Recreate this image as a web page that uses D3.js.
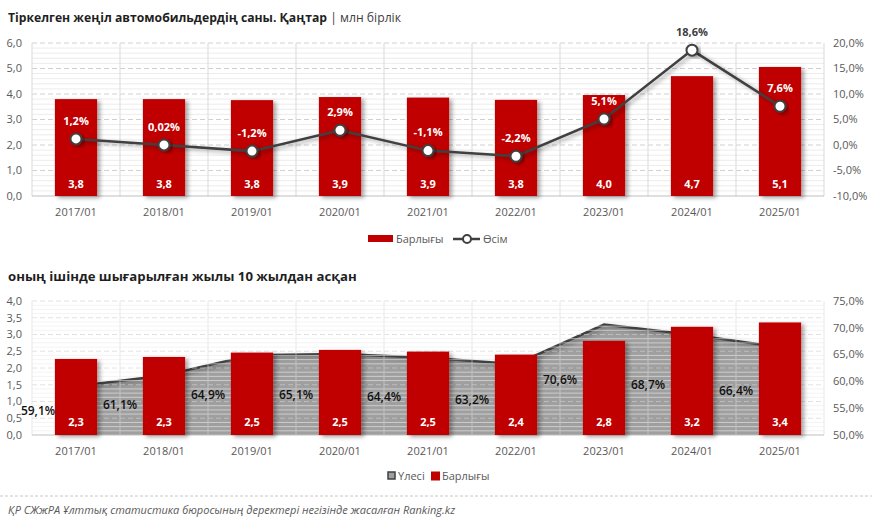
<!DOCTYPE html>
<html>
<head>
<meta charset="utf-8">
<script src="https://cdn.jsdelivr.net/npm/d3@7"></script>
<style>
  body { margin: 0; background: #fff; }
  text { font-family: "Open Sans", sans-serif; }
</style>
</head>
<body>
<svg id="chart" width="872" height="521"></svg>
<script>
// data
const years = ['2017/01', '2018/01', '2019/01', '2020/01', '2021/01', '2022/01', '2023/01', '2024/01', '2025/01'];
const total = [3.80, 3.80, 3.76, 3.88, 3.86, 3.77, 3.96, 4.70, 5.06];      // млн бірлік
const growth = [1.2, 0.02, -1.2, 2.9, -1.1, -2.2, 5.1, 18.6, 7.6];         // %
const older = [2.27, 2.33, 2.46, 2.54, 2.49, 2.40, 2.81, 3.23, 3.36];      // млн бірлік, 10+ years
const share = [59.1, 61.1, 64.9, 65.1, 64.4, 63.2, 70.6, 68.7, 66.4];      // %

const leftTicksTop = [0, 1, 2, 3, 4, 5, 6];
const rightTicksTop = [-10, -5, 0, 5, 10, 15, 20];
const leftTicksBot = [0, 0.5, 1, 1.5, 2, 2.5, 3, 3.5, 4];
const rightTicksBot = [50, 55, 60, 65, 70, 75];

const RED = '#c00000';
const DARK = '#404040';
const AXIS_TXT = '#595959';

const fmt1 = d => d.toFixed(1).replace('.', ',');
const fmtPct = d => (Math.abs(d) < 0.1 && d !== 0 ? d.toFixed(2) : d.toFixed(1)).replace('.', ',') + '%';

const svg = d3.select('#chart');

const defs = svg.append('defs');
const shadow = defs.append('filter').attr('id', 'shadow')
    .attr('x', '-20%').attr('y', '-20%').attr('width', '150%').attr('height', '150%');
shadow.append('feDropShadow')
    .attr('dx', 3).attr('dy', 2).attr('stdDeviation', 2)
    .attr('flood-color', '#000').attr('flood-opacity', 0.35);

const plotLeft = 32, plotRight = 824;

const x = d3.scaleBand().domain(years).range([plotLeft, plotRight]).paddingInner(0).paddingOuter(0);
const barW = x.bandwidth() * 0.48;
const cx = d => x(d) + x.bandwidth() / 2;

function grid(g, y, ticks, minorSteps) {
    // fine minor lines
    const [y0, y1] = y.domain();
    const major = ticks[1] - ticks[0];
    const minor = [];
    for (let i = 0; i < ticks.length - 1; i++) {
        for (let k = 1; k < minorSteps; k++) minor.push(ticks[i] + major * k / minorSteps);
    }
    g.append('g').selectAll('line').data(minor).join('line')
        .attr('x1', plotLeft).attr('x2', plotRight)
        .attr('y1', d => y(d)).attr('y2', d => y(d))
        .attr('stroke', '#ececec').attr('stroke-width', 1);
    g.append('g').selectAll('line').data(ticks.slice(1)).join('line')
        .attr('x1', plotLeft).attr('x2', plotRight)
        .attr('y1', d => y(d)).attr('y2', d => y(d))
        .attr('stroke', '#d0d0d0').attr('stroke-dasharray', '5,3');
    const bounds = years.map(d => x(d)).concat([plotRight]);
    g.append('g').selectAll('line').data(bounds).join('line')
        .attr('x1', d => d).attr('x2', d => d)
        .attr('y1', y(y1)).attr('y2', y(y0))
        .attr('stroke', '#d9d9d9');
}

function axes(g, y, yR, ticksL, ticksR, fmtL, fmtR) {
    g.append('g').selectAll('text').data(ticksL).join('text')
        .attr('x', 22).attr('y', d => y(d)).attr('dy', '0.35em')
        .attr('text-anchor', 'end').attr('font-size', 11).attr('fill', AXIS_TXT)
        .text(fmtL);
    g.append('g').selectAll('text').data(ticksR).join('text')
        .attr('x', 833).attr('y', d => yR(d)).attr('dy', '0.35em')
        .attr('text-anchor', 'start').attr('font-size', 11).attr('fill', AXIS_TXT)
        .text(fmtR);
    const base = y.range()[0];
    g.append('line').attr('x1', plotLeft).attr('x2', plotRight).attr('y1', base).attr('y2', base)
        .attr('stroke', '#bfbfbf');
    g.append('g').selectAll('text').data(years).join('text')
        .attr('x', d => cx(d)).attr('y', base + 16).attr('dy', '0.35em')
        .attr('text-anchor', 'middle').attr('font-size', 11).attr('fill', AXIS_TXT)
        .text(d => d);
}

// ---------- titles ----------
const t1 = svg.append('text').attr('x', 8).attr('y', 22).attr('font-size', 12.2).attr('fill', '#1f1f1f');
t1.append('tspan').attr('font-weight', 'bold').text('Тіркелген жеңіл автомобильдердің саны. Қаңтар');
t1.append('tspan').attr('fill', '#404040').text(' | млн бірлік');

svg.append('text').attr('x', 8).attr('y', 281).attr('font-size', 13.2).attr('fill', '#1f1f1f')
    .attr('font-weight', 'bold').text('оның ішінде шығарылған жылы 10 жылдан асқан');

// ---------- top chart ----------
const yT = d3.scaleLinear().domain([0, 6]).range([196, 43]);
const yTR = d3.scaleLinear().domain([-10, 20]).range([196, 43]);

const topG = svg.append('g');
grid(topG.append('g'), yT, leftTicksTop, 5);
axes(topG, yT, yTR, leftTicksTop, rightTicksTop, fmt1, d => fmt1(d) + '%');

topG.append('g').selectAll('rect').data(total).join('rect')
    .attr('x', (d, i) => cx(years[i]) - barW / 2)
    .attr('width', barW)
    .attr('y', d => yT(d))
    .attr('height', d => yT(0) - yT(d))
    .attr('fill', RED)
    .attr('filter', 'url(#shadow)');

topG.append('g').selectAll('text').data(total).join('text')
    .attr('x', (d, i) => cx(years[i])).attr('y', 184).attr('dy', '0.35em')
    .attr('text-anchor', 'middle').attr('font-size', 11).attr('font-weight', 'bold')
    .attr('fill', '#fff').text(fmt1);

const line = d3.line().x((d, i) => cx(years[i])).y(d => yTR(d));
topG.append('path').datum(growth)
    .attr('d', line).attr('fill', 'none')
    .attr('stroke', DARK).attr('stroke-width', 2.5)
    .attr('filter', 'url(#shadow)');

topG.append('g').selectAll('circle').data(growth).join('circle')
    .attr('cx', (d, i) => cx(years[i])).attr('cy', d => yTR(d)).attr('r', 5.5)
    .attr('fill', '#fff').attr('stroke', DARK).attr('stroke-width', 2)
    .attr('filter', 'url(#shadow)');

// labels sit above markers; white when inside the bar
topG.append('g').selectAll('text').data(growth).join('text')
    .attr('x', (d, i) => cx(years[i])).attr('y', d => yTR(d) - 18).attr('dy', '0.35em')
    .attr('text-anchor', 'middle').attr('font-size', 11).attr('font-weight', 'bold')
    .attr('fill', (d, i) => (yTR(d) - 18 < yT(total[i]) ? DARK : '#fff'))
    .text(fmtPct);

// top legend
const lg1 = svg.append('g');
lg1.append('rect').attr('x', 368).attr('y', 235).attr('width', 25).attr('height', 7).attr('fill', RED);
lg1.append('text').attr('x', 396).attr('y', 239).attr('dy', '0.35em')
    .attr('font-size', 11).attr('fill', AXIS_TXT).text('Барлығы');
lg1.append('line').attr('x1', 453).attr('x2', 480).attr('y1', 239).attr('y2', 239)
    .attr('stroke', DARK).attr('stroke-width', 2.5);
lg1.append('circle').attr('cx', 467).attr('cy', 239).attr('r', 4)
    .attr('fill', '#fff').attr('stroke', DARK).attr('stroke-width', 2);
lg1.append('text').attr('x', 483).attr('y', 239).attr('dy', '0.35em')
    .attr('font-size', 11).attr('fill', AXIS_TXT).text('Өсім');

// ---------- bottom chart ----------
const yB = d3.scaleLinear().domain([0, 4]).range([435, 301]);
const yBR = d3.scaleLinear().domain([50, 75]).range([435, 301]);

const botG = svg.append('g');

const area = d3.area()
    .x((d, i) => cx(years[i]))
    .y0(yBR(50))
    .y1(d => yBR(d));
botG.append('path').datum(share)
    .attr('d', area).attr('fill', '#9f9f9f');
botG.append('path').datum(share)
    .attr('d', d3.line().x((d, i) => cx(years[i])).y(d => yBR(d)))
    .attr('fill', 'none').attr('stroke', DARK).attr('stroke-width', 2.5)
    .attr('filter', 'url(#shadow)');

// grid lines over the grey area, as in the picture
const gridB = botG.append('g').attr('opacity', 0.6);
grid(gridB, yB, leftTicksBot, 4);

axes(botG, yB, yBR, leftTicksBot, rightTicksBot, fmt1, d => fmt1(d) + '%');

botG.append('g').selectAll('text').data(share).join('text')
    .attr('x', (d, i) => Math.max(x(years[i]), 38))
    .attr('y', d => (yBR(d) + yBR(50)) / 2).attr('dy', '0.35em')
    .attr('text-anchor', 'middle').attr('font-size', 12).attr('font-weight', 600).attr('fill', '#111')
    .text(d => fmt1(d) + '%');

botG.append('g').selectAll('rect').data(older).join('rect')
    .attr('x', (d, i) => cx(years[i]) - barW / 2)
    .attr('width', barW)
    .attr('y', d => yB(d))
    .attr('height', d => yB(0) - yB(d))
    .attr('fill', RED)
    .attr('filter', 'url(#shadow)');

botG.append('g').selectAll('text').data(older).join('text')
    .attr('x', (d, i) => cx(years[i])).attr('y', 422).attr('dy', '0.35em')
    .attr('text-anchor', 'middle').attr('font-size', 11).attr('font-weight', 'bold')
    .attr('fill', '#fff').text(fmt1);

// bottom legend
const lg2 = svg.append('g');
lg2.append('rect').attr('x', 388).attr('y', 472).attr('width', 7).attr('height', 7)
    .attr('fill', '#9f9f9f').attr('stroke', DARK).attr('stroke-width', 1.5);
lg2.append('text').attr('x', 398).attr('y', 476).attr('dy', '0.35em')
    .attr('font-size', 11).attr('fill', AXIS_TXT).text('Үлесі');
lg2.append('rect').attr('x', 431).attr('y', 471.5).attr('width', 9).attr('height', 9).attr('fill', RED);
lg2.append('text').attr('x', 442).attr('y', 476).attr('dy', '0.35em')
    .attr('font-size', 11).attr('fill', AXIS_TXT).text('Барлығы');

// ---------- footer ----------
svg.append('line').attr('x1', 0).attr('x2', 872).attr('y1', 496).attr('y2', 496)
    .attr('stroke', '#c8c8c8').attr('stroke-dasharray', '3,2');
svg.append('text').attr('x', 8).attr('y', 510).attr('dy', '0.35em')
    .attr('font-size', 11).attr('font-style', 'italic').attr('fill', '#595959')
    .text('ҚР СЖжРА Ұлттық статистика бюросының деректері негізінде жасалған Ranking.kz');
</script>
</body>
</html>
